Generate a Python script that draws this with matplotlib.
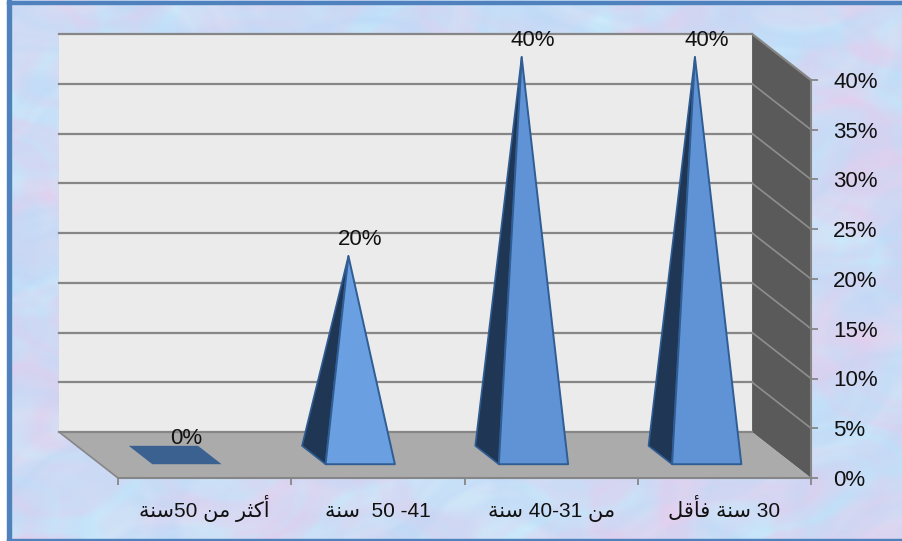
import numpy as np
import matplotlib
matplotlib.use('Agg')
import matplotlib.pyplot as plt
from matplotlib.patches import Rectangle
import re

# data
categories = ['أكثر من 50سنة', '41- 50  سنة', 'من 31-40 سنة', '30 سنة فأقل']
values = [0, 20, 40, 40]
y_ticks = [0, 5, 10, 15, 20, 25, 30, 35, 40]

W, H = 903, 541
FONT = ['Liberation Sans', 'DejaVu Sans']
plt.rcParams['font.family'] = FONT

# depth of the box, in data units (category widths / percent)
DEPTH_X = -0.34
DEPTH_Y = 4.62
BAR_HALF = 0.2

GRID = '#868686'
SIDE_GRID = '#8e8e8e'
FACES = ['#3a6190', '#6a9fe2', '#5f93d6', '#5f93d6']
FACE_EDGE = '#2f5d94'
SHADE = '#1f3654'

# isolated, final, initial, medial forms of the letters in the labels
FORMS = {
    'أ': '\uFE83\uFE84', 'ر': '\uFEAD\uFEAE', 'ة': '\uFE93\uFE94',
    'ك': '\uFED9\uFEDA\uFEDB\uFEDC', 'ث': '\uFE99\uFE9A\uFE9B\uFE9C',
    'م': '\uFEE1\uFEE2\uFEE3\uFEE4', 'ن': '\uFEE5\uFEE6\uFEE7\uFEE8',
    'س': '\uFEB1\uFEB2\uFEB3\uFEB4', 'ف': '\uFED1\uFED2\uFED3\uFED4',
    'ق': '\uFED5\uFED6\uFED7\uFED8', 'ل': '\uFEDD\uFEDE\uFEDF\uFEE0',
}


def shape(text):
    # matplotlib has no Arabic layout, so join the letters and lay them out by hand
    out = []
    for i, ch in enumerate(text):
        if ch not in FORMS:
            out.append(ch)
            continue
        prev = text[i - 1] if i > 0 else ''
        nxt = text[i + 1] if i + 1 < len(text) else ''
        joins_prev = prev in FORMS and len(FORMS[prev]) == 4
        joins_next = nxt in FORMS and len(FORMS[ch]) == 4
        if joins_prev and joins_next:
            idx = 3
        elif joins_next:
            idx = 2
        elif joins_prev:
            idx = 1
        else:
            idx = 0
        out.append(FORMS[ch][idx])
    visual = ''.join(out)[::-1]
    return re.sub(r'\d+', lambda m: m.group(0)[::-1], visual)


def clouds(x, y, s):
    # warped waves, so the blotches don't line up in stripes
    u = x + 0.09 * np.sin(11 * y + s) + 0.05 * np.sin(29 * y + 23 * x + 2 * s)
    v = y + 0.09 * np.sin(13 * x + 2.3 * s) + 0.05 * np.sin(31 * x - 19 * y + s)
    f = (np.sin(14 * u + s) * np.sin(17 * v + 1.7 * s)
         + 0.7 * np.sin(37 * u + 2 * s) * np.sin(29 * v + s)
         + 0.4 * np.sin(71 * v + 3 * s) * np.sin(83 * u + 0.5 * s))
    return np.clip(f / 2.6 + 0.5, 0, 1)[..., None]


def texture():
    # soft blue / lilac paper background
    yy, xx = np.mgrid[0:H, 0:W]
    xx = xx / W
    yy = yy / H
    a = clouds(xx, yy, 1.0)
    b = clouds(xx, yy, 2.9)
    blue = np.array([190, 220, 248])
    cyan = np.array([204, 234, 250])
    pink = np.array([226, 208, 238])
    lilac = np.array([206, 212, 242])
    img = (1 - a) * (blue * (1 - b) + cyan * b) + a * (lilac * (1 - b) + pink * b)
    return np.clip(img, 0, 255).astype(np.uint8)


def project(cat, val, depth):
    return cat + depth * DEPTH_X, val + depth * DEPTH_Y


def poly(ax, pts, color, edge='none', lw=0, z=1):
    xs, ys = zip(*pts)
    ax.fill(xs, ys, facecolor=color, edgecolor=edge, linewidth=lw, zorder=z,
            clip_on=False, joinstyle='round')


fig = plt.figure(figsize=(W / 100, H / 100), dpi=100, facecolor='white')

# background and blue frame
bg = fig.add_axes([0, 0, 1, 1])
bg.imshow(texture(), extent=(0, W, H, 0), aspect='auto')
bg.set_xlim(0, W)
bg.set_ylim(H, 0)
bg.axis('off')
bg.add_patch(Rectangle((0, 0), 7, H, color='white', zorder=2))
bg.add_patch(Rectangle((7, 0), 4, H, color='#4f81bd', zorder=3))
bg.add_patch(Rectangle((7, 1), W, 3, color='#4f81bd', zorder=3))
bg.add_patch(Rectangle((7, H - 2), W, 2, color='#4f81bd', zorder=3))

ax = fig.add_axes([118 / W, (H - 478) / H, (811 - 118) / W, (478 - 80) / H])
ax.patch.set_visible(False)
n = len(categories)
ymax = y_ticks[-1]
ax.set_xlim(0, n)
ax.set_ylim(0, ymax)

# box: back wall, side wall, floor
poly(ax, [project(0, 0, 1), project(n, 0, 1), project(n, ymax, 1), project(0, ymax, 1)], '#ebebeb')
poly(ax, [project(n, 0, 1), project(n, 0, 0), project(n, ymax, 0), project(n, ymax, 1)], '#5a5a5a')
poly(ax, [project(0, 0, 1), project(n, 0, 1), project(n, 0, 0), project(0, 0, 0)], '#ababab')

for v in y_ticks:
    x0, y0 = project(0, v, 1)
    x1, y1 = project(n, v, 1)
    x2, y2 = project(n, v, 0)
    ax.plot([x0, x1], [y0, y1], color=GRID, lw=1.6, zorder=2, clip_on=False)
    if 0 < v < ymax:
        ax.plot([x1, x2], [y1, y2], color=SIDE_GRID, lw=1.2, zorder=2, clip_on=False)
    elif v == ymax:
        ax.plot([x1, x2], [y1, y2], color=GRID, lw=1.6, zorder=2, clip_on=False)
ax.plot(*zip(project(0, 0, 1), project(0, 0, 0)), color=GRID, lw=1.2, zorder=2, clip_on=False)

# pyramids, all sitting in the middle of the floor depth
for i, v in enumerate(values):
    c = i + 0.5
    fl = project(c - BAR_HALF, 0, 0.3)
    fr = project(c + BAR_HALF, 0, 0.3)
    bl = project(c - BAR_HALF, 0, 0.7)
    br = project(c + BAR_HALF, 0, 0.7)
    apex = project(c, v, 0.5)
    if v == 0:
        poly(ax, [fl, fr, br, bl], FACES[i], z=3)
    else:
        poly(ax, [fl, bl, apex], SHADE, FACE_EDGE, 1.2, z=3)
        poly(ax, [fl, fr, apex], FACES[i], FACE_EDGE, 1.4, z=4)
    ax.annotate(f'{v}%', apex, xytext=(11.5, 17), textcoords='offset pixels',
                ha='center', va='center', fontsize=16, color='#111111', zorder=6,
                annotation_clip=False)

for side in ['top', 'left']:
    ax.spines[side].set_visible(False)
for side in ['right', 'bottom']:
    ax.spines[side].set_color(GRID)
    ax.spines[side].set_linewidth(1.5)

ax.yaxis.tick_right()
ax.set_yticks(y_ticks)
ax.set_yticklabels([f'{v}%' for v in y_ticks], fontsize=16, color='#111111')
ax.tick_params(axis='y', length=5, width=1.3, color=GRID, pad=11)

ax.set_xticks(range(n + 1))
ax.set_xticklabels([])
ax.tick_params(axis='x', which='major', length=5, width=1.3, color=GRID)
ax.set_xticks(np.arange(n) + 0.5, minor=True)
ax.set_xticklabels([shape(c) for c in categories], minor=True, fontsize=15, color='#111111', va='baseline')
ax.tick_params(axis='x', which='minor', length=0, pad=28)

fig.savefig('out.png', dpi=100)
